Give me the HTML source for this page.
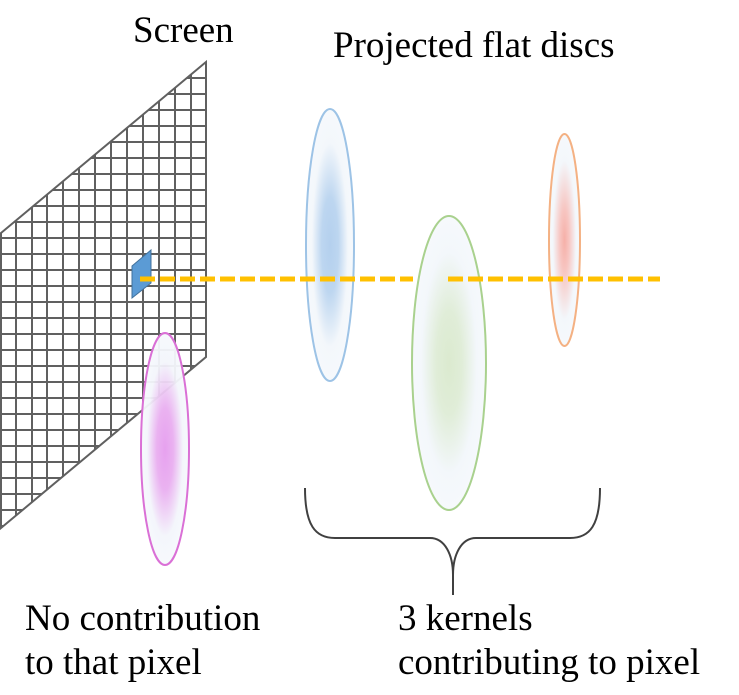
<!DOCTYPE html>
<html><head><meta charset="utf-8"><style>
html,body{margin:0;padding:0;background:#fff;}
svg{display:block;}
text{font-family:"Liberation Serif","Times New Roman",Times,serif;font-size:37px;fill:#000;}
</style></head><body>
<svg width="739" height="695" viewBox="0 0 739 695" xmlns="http://www.w3.org/2000/svg">
<defs>
<clipPath id="pg"><polygon points="1,233 206,62 206,357 1,528"/></clipPath>
<radialGradient id="gb" cx="0.5" cy="0.5" r="0.5"><stop offset="0" stop-color="#b4d0ee"/><stop offset="0.35" stop-color="#bdd6f0"/><stop offset="0.75" stop-color="#f3f7fb"/><stop offset="1" stop-color="#f6f9fc"/></radialGradient>
<radialGradient id="gg" cx="0.5" cy="0.5" r="0.5"><stop offset="0" stop-color="#dbeacf"/><stop offset="0.35" stop-color="#e0edd8"/><stop offset="0.75" stop-color="#f3f7fb"/><stop offset="1" stop-color="#f6f9fc"/></radialGradient>
<radialGradient id="go" cx="0.5" cy="0.5" r="0.5"><stop offset="0" stop-color="#f6b0a8"/><stop offset="0.3" stop-color="#f7c6c2"/><stop offset="0.75" stop-color="#f3f7fb"/><stop offset="1" stop-color="#f6f9fc"/></radialGradient>
<radialGradient id="gm" cx="0.5" cy="0.5" r="0.5"><stop offset="0" stop-color="#e59cee"/><stop offset="0.35" stop-color="#e9aef0"/><stop offset="0.75" stop-color="#f3f5fb"/><stop offset="1" stop-color="#f6f9fc"/></radialGradient>
</defs>
<g clip-path="url(#pg)" stroke="#606060" stroke-width="2">
<line x1="1" y1="0" x2="1" y2="600"/><line x1="16" y1="0" x2="16" y2="600"/><line x1="32" y1="0" x2="32" y2="600"/><line x1="47" y1="0" x2="47" y2="600"/><line x1="63" y1="0" x2="63" y2="600"/><line x1="79" y1="0" x2="79" y2="600"/><line x1="95" y1="0" x2="95" y2="600"/><line x1="111" y1="0" x2="111" y2="600"/><line x1="127" y1="0" x2="127" y2="600"/><line x1="143" y1="0" x2="143" y2="600"/><line x1="159" y1="0" x2="159" y2="600"/><line x1="175" y1="0" x2="175" y2="600"/><line x1="191" y1="0" x2="191" y2="600"/><line x1="206" y1="0" x2="206" y2="600"/>
<line x1="0" y1="78" x2="210" y2="78"/><line x1="0" y1="94" x2="210" y2="94"/><line x1="0" y1="110" x2="210" y2="110"/><line x1="0" y1="126" x2="210" y2="126"/><line x1="0" y1="142" x2="210" y2="142"/><line x1="0" y1="158" x2="210" y2="158"/><line x1="0" y1="174" x2="210" y2="174"/><line x1="0" y1="190" x2="210" y2="190"/><line x1="0" y1="206" x2="210" y2="206"/><line x1="0" y1="222" x2="210" y2="222"/><line x1="0" y1="238" x2="210" y2="238"/><line x1="0" y1="254" x2="210" y2="254"/><line x1="0" y1="270" x2="210" y2="270"/><line x1="0" y1="286" x2="210" y2="286"/><line x1="0" y1="302" x2="210" y2="302"/><line x1="0" y1="318" x2="210" y2="318"/><line x1="0" y1="334" x2="210" y2="334"/><line x1="0" y1="350" x2="210" y2="350"/><line x1="0" y1="366" x2="210" y2="366"/><line x1="0" y1="382" x2="210" y2="382"/><line x1="0" y1="398" x2="210" y2="398"/><line x1="0" y1="414" x2="210" y2="414"/><line x1="0" y1="430" x2="210" y2="430"/><line x1="0" y1="446" x2="210" y2="446"/><line x1="0" y1="462" x2="210" y2="462"/><line x1="0" y1="478" x2="210" y2="478"/><line x1="0" y1="494" x2="210" y2="494"/><line x1="0" y1="510" x2="210" y2="510"/><line x1="0" y1="526" x2="210" y2="526"/>
</g>
<polygon points="1,233 206,62 206,357 1,528" fill="none" stroke="#606060" stroke-width="2"/>
<polygon points="132,266 151,250 151,283 132,298" fill="#5b9bd5" stroke="#41719c" stroke-width="1"/>
<ellipse cx="330" cy="245" rx="24" ry="136" fill="url(#gb)" stroke="#9dc3e6" stroke-width="2"/>
<ellipse cx="449" cy="363" rx="37" ry="147" fill="url(#gg)" stroke="#a9d18e" stroke-width="2"/>
<ellipse cx="564.5" cy="240" rx="15.5" ry="106" fill="url(#go)" stroke="#f4b183" stroke-width="2"/>
<g stroke="#ffc000" stroke-width="5" stroke-dasharray="15 5">
<line x1="140" y1="279" x2="413" y2="279"/>
<line x1="448" y1="279" x2="660" y2="279"/>
</g>
<ellipse cx="165" cy="449" rx="24" ry="116" fill="url(#gm)" fill-opacity="0.95" stroke="#da70d6" stroke-width="2"/>
<path d="M305,488 C305,525 315,538 335,538 L430,538 C445,538 453,555 453,575 L453,595 M600,488 C600,525 590,538 570,538 L476,538 C461,538 453,555 453,575" fill="none" stroke="#404040" stroke-width="2"/>
<text x="133" y="42">Screen</text>
<text x="333" y="57">Projected flat discs</text>
<text x="25" y="630">No contribution</text>
<text x="25" y="674">to that pixel</text>
<text x="398" y="630">3 kernels</text>
<text x="398" y="674">contributing to pixel</text>
</svg>
</body></html>
